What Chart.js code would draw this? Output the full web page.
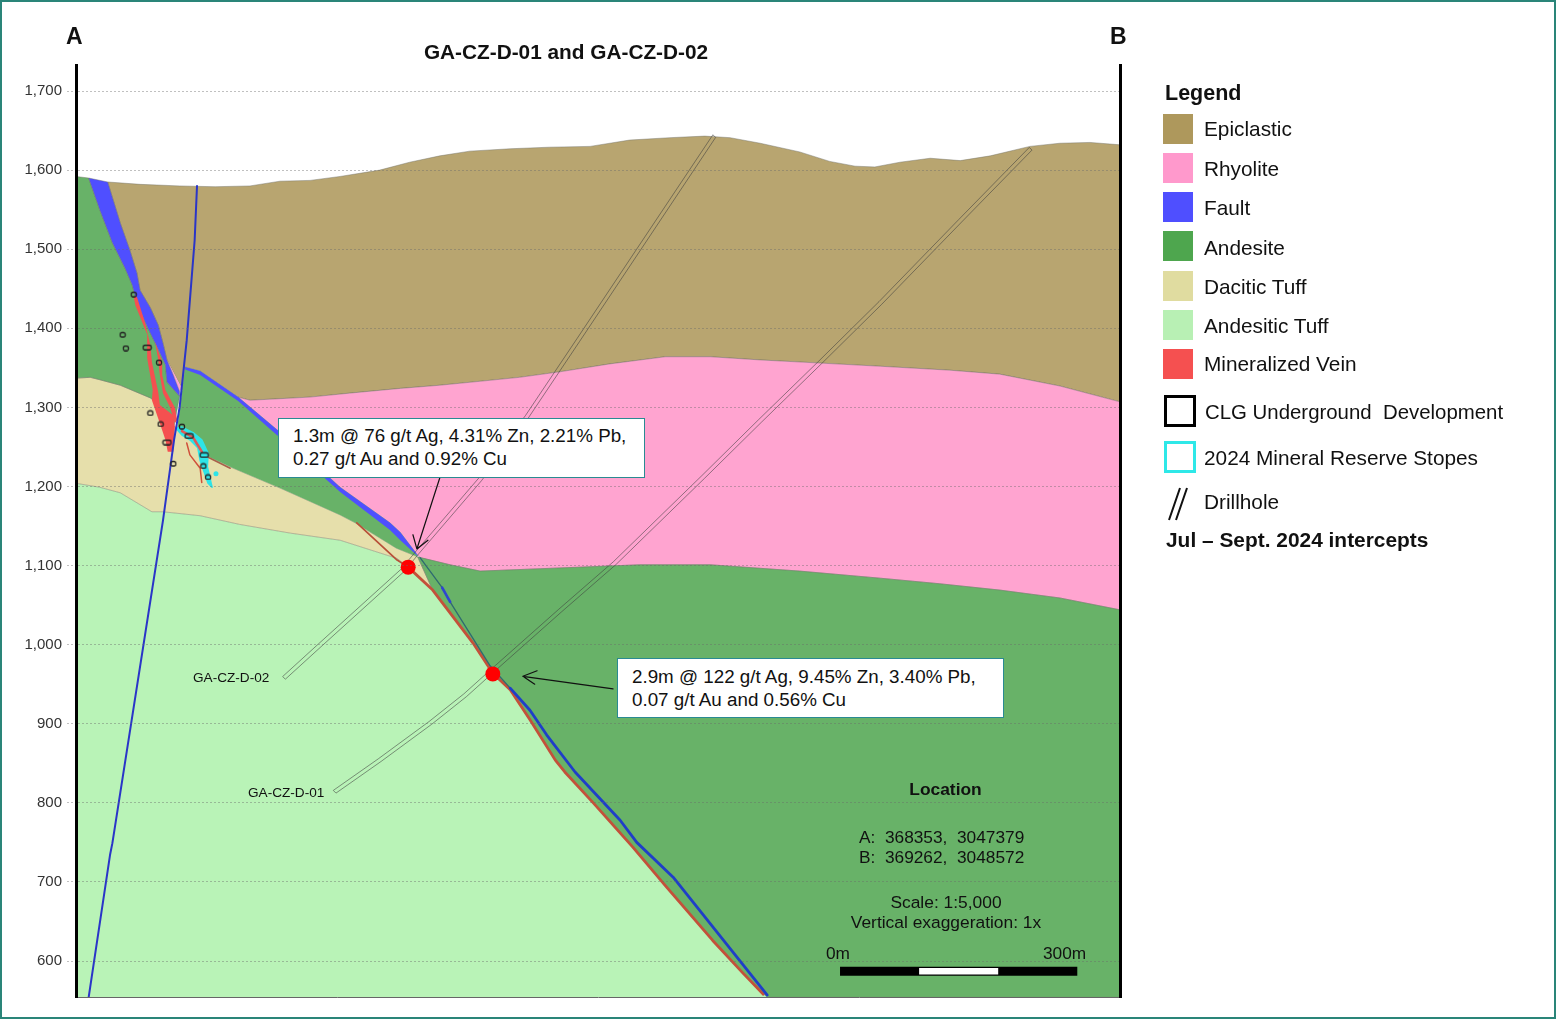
<!DOCTYPE html>
<html><head><meta charset="utf-8">
<script src="https://cdn.jsdelivr.net/npm/chart.js@4/dist/chart.umd.min.js"></script>
<style>
html,body{margin:0;padding:0;background:#fff;}
#page{position:relative;width:1558px;height:1019px;overflow:hidden;font-family:"Liberation Sans",Arial,sans-serif;color:#111;}
#frame{position:absolute;left:0;top:0;width:1552px;height:1015px;border:2px solid #2a8579;pointer-events:none;}
canvas{position:absolute;left:0;top:0;}
.t{position:absolute;white-space:pre;line-height:1;}
.b{font-weight:bold;}
.sw{position:absolute;left:1163px;width:30px;height:30px;}
.lg{position:absolute;left:1204px;font-size:20.8px;white-space:pre;line-height:24px;}
.box{position:absolute;background:#fff;border:1px solid #2a8a92;box-sizing:border-box;font-size:18.8px;line-height:23px;padding:6px 0 0 14px;white-space:pre;}
.c{transform:translateX(-50%);}
</style></head><body>
<div id="page">
<canvas id="c" width="1558" height="1019"></canvas>
<div id="frame"></div>
<div class="t b" style="left:66px;top:25px;font-size:23px">A</div>
<div class="t b" style="left:1110px;top:25px;font-size:23px">B</div>
<div class="t b c" style="left:566px;top:42px;font-size:20.8px">GA-CZ-D-01 and GA-CZ-D-02</div>

<div class="box" style="left:278px;top:418px;width:367px;height:60px;padding-top:5px">1.3m @ 76 g/t Ag, 4.31% Zn, 2.21% Pb,
0.27 g/t Au and 0.92% Cu</div>
<div class="box" style="left:617px;top:658px;width:387px;height:60px">2.9m @ 122 g/t Ag, 9.45% Zn, 3.40% Pb,
0.07 g/t Au and 0.56% Cu</div>
<div class="t" style="left:193px;top:671px;font-size:13.6px">GA-CZ-D-02</div>
<div class="t" style="left:248px;top:786px;font-size:13.6px">GA-CZ-D-01</div>

<div class="t b c" style="left:945.5px;top:781px;font-size:17.4px">Location</div>
<div class="t" style="left:859px;top:829px;font-size:17.3px">A:  368353,  3047379</div>
<div class="t" style="left:859px;top:849px;font-size:17.3px">B:  369262,  3048572</div>
<div class="t c" style="left:946px;top:894px;font-size:17.4px">Scale: 1:5,000</div>
<div class="t c" style="left:946px;top:914px;font-size:17.4px">Vertical exaggeration: 1x</div>
<div class="t" style="left:826px;top:945px;font-size:17.3px">0m</div>
<div class="t" style="left:1043px;top:945px;font-size:17.3px">300m</div>

<div class="t b" style="left:1165px;top:83px;font-size:21.5px">Legend</div>
<div class="sw" style="top:114px;background:#ae985c"></div><div class="lg" style="top:117px">Epiclastic</div>
<div class="sw" style="top:153px;background:#ff99cc"></div><div class="lg" style="top:157px">Rhyolite</div>
<div class="sw" style="top:192px;background:#4f4fff"></div><div class="lg" style="top:196px">Fault</div>
<div class="sw" style="top:231px;background:#4ea64e"></div><div class="lg" style="top:236px">Andesite</div>
<div class="sw" style="top:271px;background:#e0dca0"></div><div class="lg" style="top:275px">Dacitic Tuff</div>
<div class="sw" style="top:310px;background:#b8f0b4"></div><div class="lg" style="top:314px">Andesitic Tuff</div>
<div class="sw" style="top:349px;background:#f55050"></div><div class="lg" style="top:352px">Mineralized Vein</div>
<div class="sw" style="left:1164px;top:395px;width:26px;height:26px;border:3px solid #000"></div><div class="lg" style="left:1205px;top:400px;font-size:20.4px">CLG Underground  Development</div>
<div class="sw" style="left:1164px;top:441px;width:26px;height:26px;border:3px solid #2ee8e8"></div><div class="lg" style="top:446px">2024 Mineral Reserve Stopes</div>
<svg style="position:absolute;left:1166px;top:486px" width="24" height="36"><path d="M14 2 L3 34 M21 2 L10 34" stroke="#111" stroke-width="2" fill="none"/></svg>
<div class="lg" style="top:490px">Drillhole</div>
<div class="t b" style="left:1166px;top:530px;font-size:20.9px">Jul – Sept. 2024 intercepts</div>
</div>
<script>
const elevationTicks = [600,700,800,900,1000,1100,1200,1300,1400,1500,1600,1700];
const epiclastic = [[40,1585],[81,1582],[131,1580],[176,1579],[220,1580],[258,1586],[296,1587],[334,1592],[384,1600],[422,1610],[460,1618],[498,1624],[549,1627],[599,1629],[650,1630],[700,1638],[751,1641],[795,1643],[827,1641],[865,1634],[915,1623],[953,1611],[985,1605],[1010,1604],[1042,1610],[1080,1615],[1118,1612],[1156,1618],[1206,1630],[1244,1634],[1282,1635],[1320,1632],[1320,1307],[1244,1327],[1168,1342],[1105,1347],[1017,1352],[941,1356],[865,1360],[802,1364],[745,1364],[675,1355],[612,1345],[561,1338],[511,1333],[460,1328],[410,1324],[346,1318],[296,1313],[258,1311],[220,1309],[205,1313],[157,1346],[138,1351],[135,1322],[115,1360],[110,1381],[104,1404],[94,1426],[81,1448],[77,1470],[68,1499],[56,1533]];
const rhyolite = [[205,1313],[220,1309],[258,1311],[296,1313],[346,1318],[410,1324],[460,1328],[511,1333],[561,1338],[612,1345],[675,1355],[745,1364],[802,1364],[865,1360],[941,1356],[1017,1352],[1105,1347],[1168,1342],[1244,1327],[1320,1307],[1320,1044],[1244,1059],[1168,1069],[1092,1077],[1017,1084],[915,1093],[802,1101],[713,1101],[663,1099],[587,1096],[511,1093],[473,1101],[435,1110],[429,1117],[410,1142],[397,1154],[334,1199],[255,1271]];
const rhyoliteSliver = [[115,1360],[134,1324],[131,1320],[123,1341]];
const faultUpper = [[40,1585],[56,1533],[68,1499],[77,1470],[81,1448],[94,1426],[104,1404],[110,1381],[115,1360],[123,1341],[131,1320],[131,1314],[115,1332],[113,1354],[106,1369],[91,1400],[78,1429],[71,1455],[62,1476],[46,1508],[30,1550],[16,1590]];
const faultLower = [[138,1351],[157,1346],[205,1313],[255,1271],[334,1199],[397,1154],[410,1142],[429,1117],[433,1111],[410,1132],[397,1145],[334,1193],[255,1264],[205,1308],[157,1341],[138,1348]];
const andesiteUpper = [[0,1592],[16,1590],[30,1550],[46,1508],[62,1476],[71,1455],[78,1429],[91,1400],[106,1369],[113,1354],[115,1332],[131,1314],[124,1276],[106,1303],[94,1312],[56,1328],[30,1335],[18,1338],[0,1337]];
const andesiteWedge = [[138,1351],[157,1346],[205,1313],[255,1271],[334,1199],[397,1154],[410,1142],[429,1117],[432,1111],[405,1122],[379,1138],[353,1154],[334,1164],[258,1198],[199,1223],[169,1237],[128,1274]];
const andesiteMain = [[432,1111],[473,1101],[511,1093],[587,1096],[663,1099],[713,1101],[802,1101],[915,1093],[1017,1084],[1092,1077],[1168,1069],[1244,1059],[1320,1044],[1320,554],[874,554],[843,585],[805,626],[747,693],[704,744],[654,800],[618,839],[606,854],[574,905],[549,943],[527,964],[502,1002],[451,1069]];
const daciticTuff = [[0,1337],[18,1338],[30,1335],[56,1328],[94,1312],[106,1303],[124,1276],[128,1274],[169,1237],[199,1223],[258,1198],[334,1164],[353,1154],[379,1138],[405,1122],[432,1111],[451,1069],[420,1098],[406,1109],[334,1132],[271,1141],[207,1152],[157,1163],[110,1168],[96,1168],[56,1192],[30,1199],[0,1204]];
const andesiticTuff = [[0,1204],[30,1199],[56,1192],[96,1168],[110,1168],[157,1163],[207,1152],[271,1141],[334,1132],[406,1109],[420,1098],[451,1069],[502,1002],[527,964],[549,943],[574,905],[606,854],[618,839],[654,800],[704,744],[747,693],[805,626],[843,585],[874,554],[0,554]];
const veinMain = [[73,1440],[75,1429],[90,1392],[90,1362],[97,1322],[96,1309],[106,1280],[113,1259],[116,1244],[123,1244],[125,1275],[123,1290],[106,1303],[104,1319],[96,1357],[94,1379],[87,1408],[77,1440]];
const veinStrand = [[100,1383],[109,1357],[109,1341],[113,1322],[125,1300],[128,1284],[125,1280],[119,1300],[110,1318],[106,1341],[104,1360]];
const stope = [[126,1274],[134,1275],[148,1268],[159,1259],[167,1242],[166,1225],[172,1199],[167,1204],[157,1233],[154,1249],[144,1259],[134,1265]];
const stopeVein = [[134,1270],[148,1262],[159,1244]];
const thinVein = [[140,1255],[144,1240],[157,1223],[159,1205]];
const brownVein = [[167,1237],[195,1223]];
const stopeDot = [[177,1216]];
const redContactUpper = [[355,1154],[406,1107],[420,1098]];
const redContact = [[420,1098],[451,1069],[502,1002],[527,964],[549,943],[574,905],[606,854],[618,839],[654,800],[704,744],[747,693],[805,626],[843,585],[869,558]];
const blueFault = [[549,945],[574,917],[595,886],[631,839],[688,778],[709,750],[755,706],[874,557]];
const blueFaultUpper = [[463,1072],[473,1054]];
const darkContact = [[435,1110],[463,1072],[473,1054],[523,974],[549,945]];
const blueHole = [[153,1580],[150,1511],[140,1385],[131,1300],[124,1259],[110,1157],[46,749],[43,734],[16,554]];
const holeD01 = [[1207,1627],[1118,1536],[1017,1432],[941,1357],[865,1283],[793,1212],[681,1103],[612,1043],[532,972],[492,936],[448,901],[384,854],[327,814]];
const holeD02 = [[807,1643],[635,1385],[570,1288],[511,1209],[432,1117],[413,1094],[308,999],[263,958]];
const arrowD02 = [[460,1211],[431,1121],[426,1139],[431,1121],[445,1132]];
const arrowD01 = [[679,944],[565,960],[583,967],[565,960],[580,950]];
const intercepts = [[420,1098],[527,963]];
const developmentSmall = [[59,1392],[63,1375],[73,1443],[105,1357],[94,1293],[107,1279],[123,1229],[134,1276],[161,1226],[167,1212]];
const developmentWide = [[90,1376],[115,1256],[143,1264],[162,1240]];
const scaleBarBlack = [[966,587],[1266,587]];
const scaleBarWhite = [[1066,587],[1166,587]];

const pts = a => a.map(p => ({x:p[0], y:p[1]}));
// drillhole outline: two rails either side of the hole trace
const RAIL = 1.7;
const rails = a => pts(a.map(p=>[p[0]+RAIL,p[1]-RAIL]).concat(a.slice().reverse().map(p=>[p[0]-RAIL,p[1]+RAIL])));

// hollow opening glyphs used as Chart.js point styles
const glyph = (w,h) => {
  const cv = document.createElement('canvas'); cv.width = w+3; cv.height = h+3;
  const g = cv.getContext('2d');
  g.strokeStyle = '#222'; g.lineWidth = 1.3; g.lineJoin = 'round';
  g.beginPath(); g.roundRect(1.5,1.5,w,h,1.5); g.stroke();
  return cv;
};

const poly = (a, fill, stroke, sw) => ({data:pts(a), showLine:false, pointRadius:0, polyFill:fill, polyStroke:stroke, polyWidth:sw||0.8});
const line = (a, color, w) => ({data:pts(a), showLine:true, borderColor:color, borderWidth:w, pointRadius:0, tension:0, fill:false, borderCapStyle:'round', borderJoinStyle:'round'});
const hole = (a) => ({data:rails(a), showLine:false, pointRadius:0, polyStroke:'rgba(60,60,60,0.55)', polyWidth:1});
const marks = (a, style) => ({data:pts(a), showLine:false, pointStyle:style, pointRadius:4, pointBorderWidth:0});

const polygonPlugin = {
  id:'polygon',
  beforeDatasetDraw(chart, args){
    const ds = chart.data.datasets[args.index];
    if(!ds.polyFill && !ds.polyStroke) return;
    const ctx = chart.ctx, ca = chart.chartArea, el = args.meta.data;
    ctx.save();
    ctx.beginPath(); ctx.rect(ca.left,ca.top,ca.width,ca.height); ctx.clip();
    ctx.beginPath();
    el.forEach((p,i)=> i?ctx.lineTo(p.x,p.y):ctx.moveTo(p.x,p.y));
    ctx.closePath();
    if(ds.polyFill){ctx.fillStyle=ds.polyFill;ctx.fill();}
    if(ds.polyStroke){ctx.strokeStyle=ds.polyStroke;ctx.lineWidth=ds.polyWidth;ctx.lineJoin='round';ctx.stroke();}
    ctx.restore();
  }
};

const EDGE='rgba(110,110,100,0.55)';
// listed bottom layer first; Chart.js paints the first dataset on top, so the list is reversed below
const layers = [
  poly(andesiticTuff,'#b9f3b7',null),
  poly(daciticTuff,'#e6dfab',EDGE),
  poly(epiclastic,'#b8a570',EDGE),
  poly(rhyolite,'#ffa4d0',EDGE),
  poly(rhyoliteSliver,'#ffa4d0',null),
  poly(andesiteUpper,'#68b268',EDGE),
  poly(andesiteWedge,'#68b268',null),
  poly(andesiteMain,'#68b268',EDGE),
  poly(faultUpper,'#4f4fff',EDGE),
  poly(faultLower,'#4f4fff',null),
  line(redContactUpper,'#b85038',1.7),
  line(redContact,'#c4503a',2.8),
  line(darkContact,'#2f6a70',1.3),
  line(blueFaultUpper,'#2f45d0',2.6),
  line(blueFault,'#1f3fc8',2.8),
  poly(veinMain,'#f55050',null),
  poly(veinStrand,'#f55050',null),
  poly(stope,'#2ee4e8','#2ee4e8',1.6),
  line(stopeVein,'#dd5a58',2.6),
  line(thinVein,'#d0503a',1.5),
  line(brownVein,'#a8604a',1.5),
  {data:pts(stopeDot),showLine:false,pointRadius:2.5,pointBackgroundColor:'#2ee4e8',pointBorderWidth:0},
  hole(holeD01),
  hole(holeD02),
  line(blueHole,'#2a35c8',2),
  marks(developmentSmall,glyph(5,4.5)),
  marks(developmentWide,glyph(8,4.5)),
  line(arrowD02,'#111',1.2),
  line(arrowD01,'#111',1.2),
  {data:pts(intercepts),showLine:false,pointStyle:'circle',pointRadius:7.5,pointBackgroundColor:'#ff0000',pointBorderWidth:0},
  {...line(scaleBarBlack,'#000',9),borderCapStyle:'butt'},
  {...line(scaleBarWhite,'#fff',6.5),borderCapStyle:'butt'}
];
const datasets = layers.slice().reverse();

new Chart(document.getElementById('c'),{
  type:'scatter',
  data:{datasets},
  plugins:[polygonPlugin],
  options:{
    responsive:false, animation:false, devicePixelRatio:1,
    layout:{padding:{left:0,top:65,right:438,bottom:22}},
    plugins:{legend:{display:false},tooltip:{enabled:false}},
    scales:{
      x:{type:'linear',min:0,max:1320,display:true,
         grid:{display:false},
         ticks:{display:false},
         border:{display:true,color:'#666',width:1,z:2},
         afterFit(s){s.height=0;}},
      y:{type:'linear',position:'left',min:554.5,max:1732.9,
         afterBuildTicks(s){s.ticks=elevationTicks.map(v=>({value:v}));},
         ticks:{includeBounds:false,padding:5,color:'#333',font:{family:'"Liberation Sans",Arial,sans-serif',size:15},
                callback:v=>Number(v).toLocaleString('en-US'),autoSkip:false},
         grid:{z:1,color:'rgba(105,105,105,0.42)',lineWidth:1,tickLength:9,tickColor:'rgba(105,105,105,0.42)',tickBorderDash:[2,2]},
         border:{display:true,color:'#000',width:3,dash:[2,2],z:2},
         afterFit(s){s.width=76;}},
      yR:{type:'linear',position:'right',min:554.5,max:1732.9,
         grid:{display:false},ticks:{display:false},
         border:{display:true,color:'#000',width:3,z:2},
         afterFit(s){s.width=0;}}
    }
  }
});
</script>
</body></html>
